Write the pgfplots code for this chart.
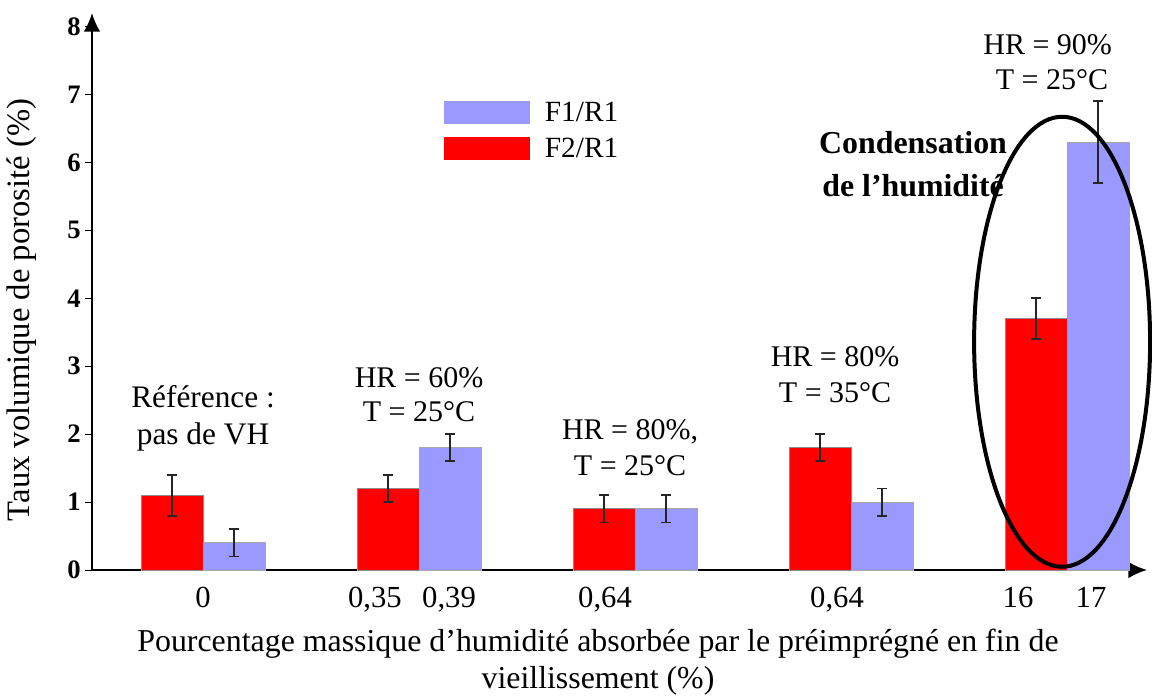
\documentclass[border=0pt]{standalone}
\usepackage{pgfplots}
\pgfplotsset{compat=1.18}
\usepackage{fontspec}
\setmainfont{Liberation Serif}
\usetikzlibrary{arrows.meta}
\definecolor{barred}{HTML}{FF0000}
\definecolor{barblue}{HTML}{9999FF}
\begin{document}
\begin{tikzpicture}
\useasboundingbox (-69pt,-96pt) rectangle (795pt,427.5pt);
\begin{axis}[
  at={(0pt,0pt)}, anchor=south west,
  scale only axis,
  width=791.25pt, height=417.75pt,
  xmin=-0.514, xmax=4.37,
  ymin=0, ymax=8.2,
  axis lines=left,
  axis line style={line width=1.5pt},
  x axis line style={-{Latex[length=14pt,width=12.5pt]}},
  y axis line style={-{Latex[length=14pt,width=12.5pt]}},
  ytick={0,1,...,8},
  xtick={0,0.796,1.139,1.861,2.935,3.773,4.111},
  xticklabels={0,{0,35},{0,39},{0,64},{0,64},16,17},
  x tick style={draw=none},
  y tick style={line width=0.6pt, black},
  tick align=outside,
  major tick length=5pt,
  /pgf/number format/assume math mode=true,
  yticklabel style={font=\bfseries\fontsize{20}{20}\selectfont},
  xticklabel style={font=\fontsize{23}{23}\selectfont, yshift=-4.5pt},
  xlabel={Pourcentage massique d’humidité absorbée par le préimprégné en fin de\\ vieillissement (\%)},
  xlabel style={font=\fontsize{23.9}{28}\selectfont, align=center, at={(axis description cs:0.4796,-0.166)}, anchor=center},
  ylabel={Taux volumique de porosité (\%)},
  ylabel style={font=\fontsize{24.5}{24.5}\selectfont, at={(axis description cs:-0.0664,0.467)}, anchor=center, rotate=0},
  legend style={at={(axis description cs:0.3336,0.846)}, anchor=north west, draw=none, fill=none, inner sep=0pt, font=\fontsize{22}{22}\selectfont, row sep=7pt, nodes={inner xsep=11pt}},
  legend cell align=left,
  legend image code/.code={\fill[#1,draw=none] (0pt,-8.5pt) rectangle (64.5pt,8.5pt);},
  clip=false,
]
% legend entries (blue first)
\addlegendimage{fill=barblue}
\addlegendentry{F1/R1}
\addlegendimage{fill=barred}
\addlegendentry{F2/R1}
% F2/R1 (red, left bar of each group)
\addplot[ybar, bar width=0.287, bar shift=0, fill=barred, draw=black!45, line width=0.6pt,
  error bars/.cd, y dir=both, y explicit,
  error bar style={line width=1.3pt, black!85},
  error mark options={rotate=90, mark size=3.5pt, line width=1.3pt, black!85}]
  coordinates {(-0.1435,1.1) +- (0,0.3) (0.8565,1.2) +- (0,0.2) (1.8565,0.9) +- (0,0.2) (2.8565,1.8) +- (0,0.2) (3.8565,3.7) +- (0,0.3)};
% F1/R1 (blue, right bar of each group)
\addplot[ybar, bar width=0.287, bar shift=0, fill=barblue, draw=black!35, line width=0.6pt,
  error bars/.cd, y dir=both, y explicit,
  error bar style={line width=1.3pt, black!85},
  error mark options={rotate=90, mark size=3.5pt, line width=1.3pt, black!85}]
  coordinates {(0.1435,0.4) +- (0,0.2) (1.1435,1.8) +- (0,0.2) (2.1435,0.9) +- (0,0.2) (3.1435,1.0) +- (0,0.2) (4.1435,6.3) +- (0,0.6)};
% annotations
\begin{scope}[every node/.style={font=\fontsize{22.5}{22.5}\selectfont, anchor=center, inner sep=0pt}]
\node[font=\fontsize{23.5}{23.5}\selectfont] at (axis cs:0,2.55) {Référence :};
\node[font=\fontsize{23.5}{23.5}\selectfont] at (axis cs:0,1.96) {pas de VH};
\node at (axis cs:1.0,2.83) {HR = 60\%};
\node at (axis cs:1.0,2.33) {T = 25°C};
\node at (axis cs:1.977,2.03) {HR = 80\%,};
\node at (axis cs:1.977,1.53) {T = 25°C};
\node at (axis cs:2.926,3.14) {HR = 80\%};
\node at (axis cs:2.926,2.61) {T = 35°C};
\node at (axis cs:3.91,7.73) {HR = 90\%};
\node at (axis cs:3.93,7.22) {T = 25°C};
\node[font=\bfseries\fontsize{23.9}{23.9}\selectfont] at (axis cs:3.287,6.29) {Condensation};
\node[font=\bfseries\fontsize{23.9}{23.9}\selectfont] at (axis cs:3.287,5.66) {de l’humidité};
\end{scope}
\draw[line width=3pt] (axis cs:3.977,3.36) ellipse [x radius=66pt, y radius=168.75pt];
\end{axis}
\end{tikzpicture}
\end{document}
